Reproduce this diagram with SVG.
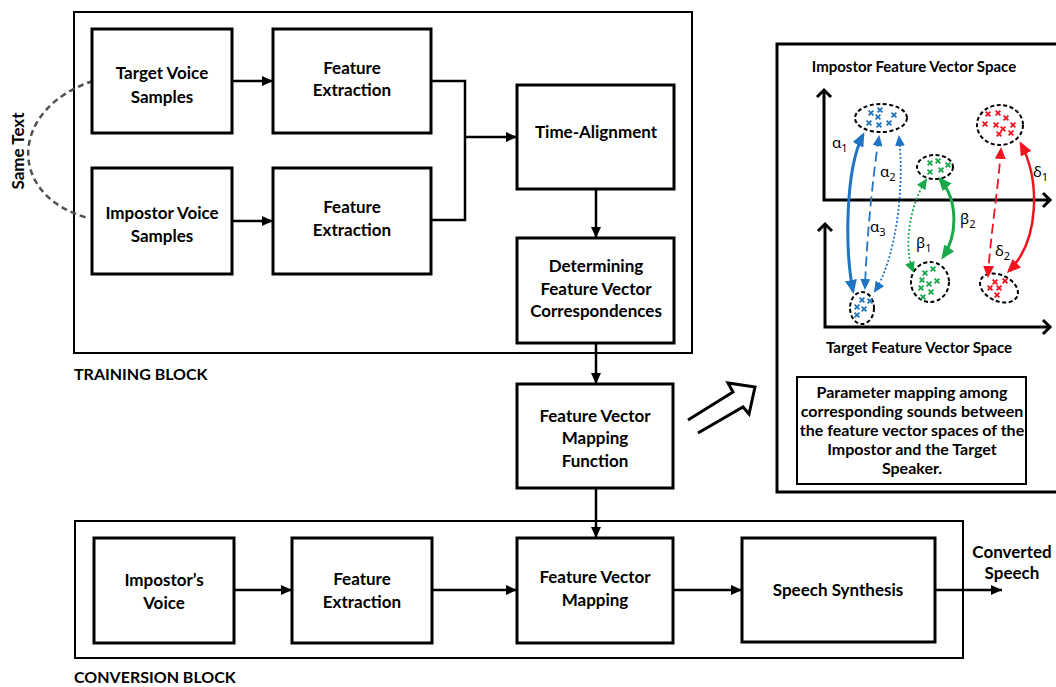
<svg xmlns="http://www.w3.org/2000/svg" width="1056" height="687" viewBox="0 0 1056 687">
  <style>
    text { font-family: Lato, "Open Sans", "Liberation Sans", sans-serif; font-weight: bold; fill: #000; }
    .lbl { font-size: 17px; text-anchor: middle; }
    .blk { font-size: 16px; }
    .ttl { font-size: 15px; text-anchor: middle; }
    .note { font-size: 16px; text-anchor: middle; }
    .greek { font-family: "Noto Sans", "DejaVu Sans", sans-serif; font-weight: normal; font-size: 15px; }
    .box { fill: #fff; stroke: #000; stroke-width: 3; }
    .frame { fill: none; stroke: #000; stroke-width: 2; }
    .wire { fill: none; stroke: #000; stroke-width: 2.5; }
    .axis { fill: none; stroke: #000; stroke-width: 3; stroke-linejoin: miter; }
    .clu { fill: none; stroke: #000; stroke-width: 2; stroke-dasharray: 4 2.5; }
    .blue { stroke: #1f74c4; }
    .green { stroke: #19a84a; }
    .red { stroke: #f0141e; }
    .xm { fill: none; stroke-width: 1.8; }
    .solid { fill: none; stroke-width: 3; }
    .dash { fill: none; stroke-width: 1.8; stroke-dasharray: 10 5; }
    .dot { fill: none; stroke-width: 1.8; stroke-dasharray: 2 2; }
  </style>
  <defs>
    <marker id="ah" markerUnits="userSpaceOnUse" viewBox="0 0 11 12" refX="11" refY="6" markerWidth="11" markerHeight="12" orient="auto">
      <path d="M0,1 L11,6 L0,11 Z" fill="#000"/>
    </marker>
    <marker id="bL" markerUnits="userSpaceOnUse" viewBox="0 0 14 12" refX="11" refY="6" markerWidth="14" markerHeight="12" orient="auto-start-reverse">
      <path d="M0,0 L14,6 L0,12 Z" fill="#1f74c4"/>
    </marker>
    <marker id="bS" markerUnits="userSpaceOnUse" viewBox="0 0 11 10" refX="9" refY="5" markerWidth="11" markerHeight="10" orient="auto-start-reverse">
      <path d="M0,0 L11,5 L0,10 Z" fill="#1f74c4"/>
    </marker>
    <marker id="gL" markerUnits="userSpaceOnUse" viewBox="0 0 14 12" refX="11" refY="6" markerWidth="14" markerHeight="12" orient="auto-start-reverse">
      <path d="M0,0 L14,6 L0,12 Z" fill="#19a84a"/>
    </marker>
    <marker id="gS" markerUnits="userSpaceOnUse" viewBox="0 0 11 10" refX="9" refY="5" markerWidth="11" markerHeight="10" orient="auto-start-reverse">
      <path d="M0,0 L11,5 L0,10 Z" fill="#19a84a"/>
    </marker>
    <marker id="rL" markerUnits="userSpaceOnUse" viewBox="0 0 14 12" refX="11" refY="6" markerWidth="14" markerHeight="12" orient="auto-start-reverse">
      <path d="M0,0 L14,6 L0,12 Z" fill="#f0141e"/>
    </marker>
    <marker id="rS" markerUnits="userSpaceOnUse" viewBox="0 0 12 11" refX="10" refY="5.5" markerWidth="12" markerHeight="11" orient="auto-start-reverse">
      <path d="M0,0 L12,5.5 L0,11 Z" fill="#f0141e"/>
    </marker>
    <path id="x" d="M-2.4,-2.4 L2.4,2.4 M2.4,-2.4 L-2.4,2.4"/>
  </defs>

  <rect width="1056" height="687" fill="#fff"/>

  <!-- block frames -->
  <g id="training-block">
    <rect class="frame" x="74" y="12" width="618" height="341"/>
    <text class="blk" x="74" y="380">TRAINING BLOCK</text>
  </g>
  <g id="conversion-block">
    <rect class="frame" x="75" y="521" width="888" height="137"/>
    <text class="blk" x="74" y="683">CONVERSION BLOCK</text>
  </g>

  <!-- same text link -->
  <g id="same-text">
    <path d="M93,81 C10,108 5,195 88,218" fill="none" stroke="#505050" stroke-width="2.5" stroke-dasharray="6 4"/>
    <text transform="translate(24,151) rotate(-90)" text-anchor="middle" style="font-size:17px">Same Text</text>
  </g>

  <!-- connectors -->
  <g id="connectors">
    <line class="wire" x1="232" y1="81" x2="273" y2="81" marker-end="url(#ah)"/>
    <line class="wire" x1="232" y1="221" x2="273" y2="221" marker-end="url(#ah)"/>
    <polyline class="wire" points="431,81 465,81 465,220 431,220"/>
    <line class="wire" x1="465" y1="137" x2="517" y2="137" marker-end="url(#ah)"/>
    <line class="wire" x1="596" y1="189" x2="596" y2="238" marker-end="url(#ah)"/>
    <line class="wire" x1="596" y1="343" x2="596" y2="384" marker-end="url(#ah)"/>
    <line class="wire" x1="596" y1="488" x2="596" y2="538" marker-end="url(#ah)"/>
    <line class="wire" x1="234" y1="590" x2="292" y2="590" marker-end="url(#ah)"/>
    <line class="wire" x1="432" y1="590" x2="517" y2="590" marker-end="url(#ah)"/>
    <line class="wire" x1="673" y1="590" x2="742" y2="590" marker-end="url(#ah)"/>
    <line class="wire" x1="935" y1="590" x2="1002" y2="590" marker-end="url(#ah)"/>
    <!-- hollow pointer towards the vector-space panel -->
    <polyline points="688,420 733,392 728,383 755,387 749,414 743,407 698,433" fill="none" stroke="#000" stroke-width="3" stroke-linejoin="miter"/>
  </g>

  <!-- training nodes -->
  <g id="target-voice-samples">
    <rect class="box" x="92" y="29" width="140" height="104"/>
    <text class="lbl" x="162" y="79">Target Voice</text>
    <text class="lbl" x="162" y="103">Samples</text>
  </g>
  <g id="feature-extraction-1">
    <rect class="box" x="273" y="29" width="158" height="104"/>
    <text class="lbl" x="352" y="74">Feature</text>
    <text class="lbl" x="352" y="96">Extraction</text>
  </g>
  <g id="impostor-voice-samples">
    <rect class="box" x="92" y="168" width="140" height="106"/>
    <text class="lbl" x="162" y="219">Impostor Voice</text>
    <text class="lbl" x="162" y="242">Samples</text>
  </g>
  <g id="feature-extraction-2">
    <rect class="box" x="273" y="168" width="158" height="106"/>
    <text class="lbl" x="352" y="213">Feature</text>
    <text class="lbl" x="352" y="236">Extraction</text>
  </g>
  <g id="time-alignment">
    <rect class="box" x="517" y="85" width="157" height="104"/>
    <text class="lbl" x="596" y="138">Time-Alignment</text>
  </g>
  <g id="correspondences">
    <rect class="box" x="517" y="238" width="157" height="105"/>
    <text class="lbl" x="596" y="272">Determining</text>
    <text class="lbl" x="596" y="295">Feature Vector</text>
    <text class="lbl" x="596" y="317">Correspondences</text>
  </g>
  <g id="mapping-function">
    <rect class="box" x="517" y="384" width="156" height="104"/>
    <text class="lbl" x="595" y="422">Feature Vector</text>
    <text class="lbl" x="595" y="444">Mapping</text>
    <text class="lbl" x="595" y="467">Function</text>
  </g>

  <!-- conversion nodes -->
  <g id="impostors-voice">
    <rect class="box" x="94" y="538" width="140" height="105"/>
    <text class="lbl" x="164" y="586">Impostor’s</text>
    <text class="lbl" x="164" y="609">Voice</text>
  </g>
  <g id="feature-extraction-3">
    <rect class="box" x="292" y="538" width="140" height="105"/>
    <text class="lbl" x="362" y="585">Feature</text>
    <text class="lbl" x="362" y="608">Extraction</text>
  </g>
  <g id="feature-vector-mapping">
    <rect class="box" x="517" y="538" width="156" height="105"/>
    <text class="lbl" x="595" y="583">Feature Vector</text>
    <text class="lbl" x="595" y="606">Mapping</text>
  </g>
  <g id="speech-synthesis">
    <rect class="box" x="742" y="538" width="193" height="104"/>
    <text class="lbl" x="838" y="596">Speech Synthesis</text>
  </g>
  <g id="converted-speech">
    <text class="lbl" x="1012" y="558">Converted</text>
    <text class="lbl" x="1012" y="579">Speech</text>
  </g>

  <!-- feature vector space panel -->
  <g id="vector-space-panel">
    <rect x="777" y="44" width="290" height="448" fill="none" stroke="#000" stroke-width="3"/>
    <text class="ttl" x="914" y="72">Impostor Feature Vector Space</text>
    <text class="ttl" x="919" y="353">Target Feature Vector Space</text>

    <!-- axes -->
    <polyline class="axis" points="824,90 824,200 1050,200"/>
    <polyline class="axis" points="817,97 824,90 831,97"/>
    <polyline class="axis" points="1043,193 1050,200 1043,207"/>
    <polyline class="axis" points="825,224 825,327 1050,327"/>
    <polyline class="axis" points="818,231 825,224 832,231"/>
    <polyline class="axis" points="1043,320 1050,327 1043,334"/>

    <!-- clusters -->
    <ellipse class="clu" cx="881" cy="118" rx="26" ry="14"/>
    <ellipse class="clu" cx="935" cy="167" rx="18" ry="12"/>
    <ellipse class="clu" cx="1000" cy="125" rx="23" ry="20"/>
    <ellipse class="clu" cx="862" cy="308" rx="12" ry="16"/>
    <ellipse class="clu" cx="930" cy="282" rx="19" ry="20"/>
    <ellipse class="clu" cx="999" cy="288" rx="20" ry="13" transform="rotate(25 999 288)"/>

    <g class="xm blue">
      <use href="#x" x="871" y="113"/><use href="#x" x="880" y="110"/><use href="#x" x="894" y="115"/>
      <use href="#x" x="878" y="117"/><use href="#x" x="869" y="123"/><use href="#x" x="879" y="125"/>
      <use href="#x" x="889" y="123"/>
      <use href="#x" x="862" y="300"/><use href="#x" x="870" y="301"/><use href="#x" x="857" y="307"/>
      <use href="#x" x="864" y="309"/><use href="#x" x="857" y="315"/>
    </g>
    <g class="xm green">
      <use href="#x" x="930" y="163"/><use href="#x" x="938" y="161"/><use href="#x" x="948" y="165"/>
      <use href="#x" x="930" y="172"/><use href="#x" x="941" y="170"/>
      <use href="#x" x="925" y="273"/><use href="#x" x="933" y="269"/><use href="#x" x="922" y="280"/>
      <use href="#x" x="929" y="284"/><use href="#x" x="937" y="281"/><use href="#x" x="921" y="288"/>
      <use href="#x" x="931" y="292"/><use href="#x" x="923" y="297"/>
    </g>
    <g class="xm red">
      <use href="#x" x="988" y="114"/><use href="#x" x="998" y="113"/><use href="#x" x="1006" y="118"/>
      <use href="#x" x="985" y="124"/><use href="#x" x="996" y="125"/><use href="#x" x="1013" y="125"/>
      <use href="#x" x="1003" y="129"/><use href="#x" x="999" y="134"/><use href="#x" x="1011" y="133"/>
      <use href="#x" x="995" y="282"/><use href="#x" x="1005" y="281"/><use href="#x" x="990" y="288"/>
      <use href="#x" x="999" y="288"/><use href="#x" x="997" y="295"/>
    </g>

    <!-- correspondence arrows -->
    <path class="solid blue" d="M863,135 C845,170 845,250 853,291" marker-start="url(#bL)" marker-end="url(#bL)"/>
    <path class="dash blue" d="M879,137 C872,180 866,250 865,288" marker-start="url(#bS)" marker-end="url(#bS)"/>
    <path class="dot blue" d="M899,137 C905,190 895,260 875,291" marker-start="url(#bS)" marker-end="url(#bS)"/>
    <path class="dot green" d="M926,180 C910,205 903,245 913,271" marker-start="url(#gS)" marker-end="url(#gS)"/>
    <path class="solid green" d="M940,179 C958,200 958,235 943,257" marker-start="url(#gL)" marker-end="url(#gL)"/>
    <path class="dash red" d="M1001,149 C998,190 990,240 988,276" marker-start="url(#rS)" marker-end="url(#rS)"/>
    <path class="solid red" style="stroke-width:2.5" d="M1021,144 C1040,180 1040,240 1009,271" marker-start="url(#rL)" marker-end="url(#rL)"/>

    <text class="greek" x="832" y="148">α<tspan dy="4" font-size="11">1</tspan></text>
    <text class="greek" x="880" y="177">α<tspan dy="4" font-size="11">2</tspan></text>
    <text class="greek" x="870" y="232">α<tspan dy="4" font-size="11">3</tspan></text>
    <text class="greek" x="916" y="248">β<tspan dy="4" font-size="11">1</tspan></text>
    <text class="greek" x="960" y="224">β<tspan dy="4" font-size="11">2</tspan></text>
    <text class="greek" x="1033" y="177">δ<tspan dy="4" font-size="11">1</tspan></text>
    <text class="greek" x="995" y="256">δ<tspan dy="4" font-size="11">2</tspan></text>
  </g>

  <g id="panel-caption">
    <rect x="797" y="377" width="229" height="107" fill="#fff" stroke="#000" stroke-width="2"/>
    <text class="note" x="912" y="398">Parameter mapping among</text>
    <text class="note" x="912" y="417">corresponding sounds between</text>
    <text class="note" x="912" y="436">the feature vector spaces of the</text>
    <text class="note" x="912" y="455">Impostor and the Target</text>
    <text class="note" x="912" y="474">Speaker.</text>
  </g>
</svg>
